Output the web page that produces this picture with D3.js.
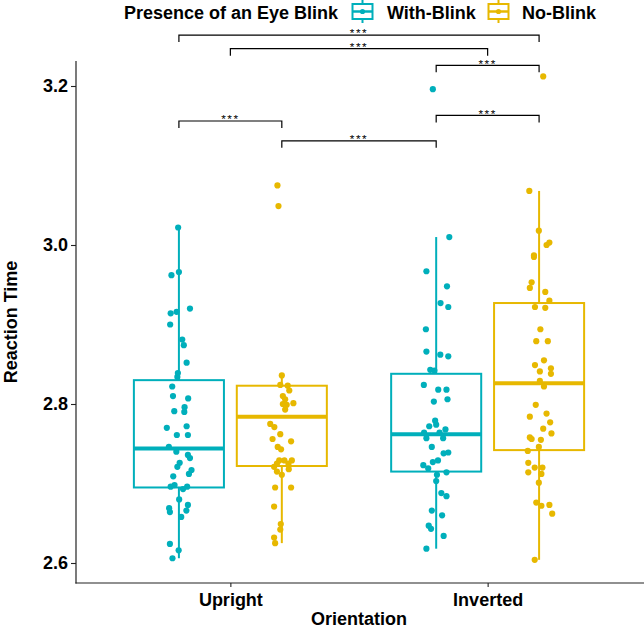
<!DOCTYPE html>
<html>
<head>
<meta charset="utf-8">
<script src="https://cdn.jsdelivr.net/npm/d3@7"></script>
<style>
  html, body { margin: 0; padding: 0; background: #fff; }
  svg { display: block; font-family: "Liberation Sans", Arial, sans-serif; }
</style>
</head>
<body>
<svg id="chart" width="644" height="629"></svg>
<script>
// ---------------- DATA ----------------
const orientations = ["Upright", "Inverted"];
const blinkGroups = ["With-Blink", "No-Blink"];
const groupColors = ["#00AFBB", "#E7B800"];
const yTickValues = [2.6, 2.8, 3.0, 3.2];
const xTitle = "Orientation";
const yTitle = "Reaction Time";
const legendTitle = "Presence of an Eye Blink";

// Box statistics [low whisker, q1, median, q3, high whisker]
const boxUprightWith  = [2.606, 2.695, 2.744, 2.830, 3.022];
const boxUprightNo    = [2.625, 2.722, 2.784, 2.823, 2.836];
const boxInvertedWith = [2.618, 2.715, 2.762, 2.838, 3.010];
const boxInvertedNo   = [2.604, 2.742, 2.826, 2.927, 3.068];

// Reaction times (jittered points) and horizontal jitter (fraction of category step)
const rtUprightWith = [3.022,2.962,2.966,2.920,2.914,2.916,2.900,2.881,2.874,2.852,2.839,2.834,2.822,2.810,2.807,2.791,2.796,2.790,2.770,2.772,2.761,2.761,2.746,2.740,2.736,2.732,2.726,2.721,2.717,2.712,2.709,2.696,2.698,2.693,2.696,2.680,2.669,2.664,2.673,2.666,2.658,2.624,2.616,2.606];
const jxUprightWith = [-0.003,-0.029,0,0.043,-0.032,-0.009,-0.034,0.013,0.019,0.030,-0.004,-0.006,-0.026,-0.023,0.036,-0.018,0.022,0.021,-0.047,0.030,-0.008,0.035,-0.039,-0.010,0.035,0.043,0.003,-0.006,0.049,0.039,-0.022,-0.032,-0.017,0.016,0.032,0.001,-0.038,-0.035,0.035,0.029,0.009,-0.035,-0.001,-0.025];

const rtUprightNo = [3.075,3.049,2.836,2.824,2.823,2.817,2.810,2.806,2.801,2.799,2.800,2.793,2.775,2.771,2.762,2.756,2.753,2.746,2.743,2.729,2.729,2.729,2.725,2.725,2.721,2.718,2.715,2.711,2.695,2.695,2.671,2.649,2.642,2.632,2.625];
const jxUprightNo = [-0.017,-0.013,0,-0.006,0.023,0.029,0.004,0.013,0.045,0.019,0.004,0.013,-0.045,-0.029,-0.006,-0.036,0.036,-0.016,-0.003,-0.010,0.010,0.039,-0.019,0.026,-0.030,0.027,-0.019,0,-0.026,0.036,-0.030,-0.004,-0.006,-0.030,-0.026];

const rtInvertedWith = [3.196,3.010,2.967,2.948,2.927,2.922,2.894,2.866,2.862,2.860,2.843,2.842,2.824,2.818,2.818,2.803,2.806,2.779,2.772,2.774,2.768,2.764,2.764,2.757,2.757,2.746,2.739,2.738,2.729,2.727,2.723,2.719,2.714,2.711,2.703,2.688,2.684,2.666,2.660,2.647,2.643,2.634,2.618];
const jxInvertedWith = [-0.013,0.051,-0.038,0.042,0.017,0.047,-0.040,-0.038,0.016,0.047,-0.023,-0.007,-0.048,0.008,0.040,-0.009,0.044,-0.004,-0.027,0,0.036,-0.047,0.013,-0.038,0.027,-0.017,0.047,0.029,0.007,-0.013,-0.050,-0.031,0.040,0.003,0,0.020,0.040,-0.017,0.023,-0.029,-0.020,0.029,-0.038];

const rtInvertedNo = [3.212,3.068,3.018,3.000,3.003,2.987,2.985,2.953,2.946,2.941,2.930,2.922,2.921,2.894,2.879,2.879,2.849,2.855,2.845,2.841,2.838,2.829,2.822,2.799,2.788,2.784,2.777,2.769,2.763,2.758,2.756,2.755,2.741,2.746,2.726,2.720,2.720,2.714,2.712,2.701,2.676,2.672,2.673,2.662,2.604];
const jxInvertedNo = [0.016,-0.038,-0.001,0.029,0.040,-0.020,-0.020,-0.029,-0.036,0.024,0.040,-0.016,0.024,0.005,-0.011,0.034,-0.016,0.019,0.046,0.003,0.046,0.003,0.019,-0.013,0.029,-0.036,0.043,0.016,0.048,-0.036,-0.029,0.007,-0.044,-0.001,-0.042,-0.017,0.013,-0.042,0.009,-0.001,-0.011,0.009,0.040,0.051,-0.017];

// Significance brackets: [orientation, group or null (= category centre)]
const bracketStart = [["Upright","With-Blink"],["Upright",null],["Inverted","With-Blink"],["Inverted","With-Blink"],["Upright","With-Blink"],["Upright","No-Blink"]];
const bracketEnd   = [["Inverted","No-Blink"],["Inverted",null],["Inverted","No-Blink"],["Inverted","No-Blink"],["Upright","No-Blink"],["Inverted","With-Blink"]];
const bracketLevel = [3.264, 3.247, 3.226, 3.163, 3.156, 3.131];
const bracketLabel = ["***","***","***","***","***","***"];

// ---------------- LAYOUT ----------------
const svg = d3.select("#chart");
const panel = { left: 76, right: 642, top: 61, bottom: 583 };

const x = d3.scalePoint().domain(orientations).range([panel.left, panel.right]).padding(0.6);
const step = x.step();
const dodge = d3.scaleOrdinal().domain(blinkGroups).range([-0.2, 0.2]);
const color = d3.scaleOrdinal().domain(blinkGroups).range(groupColors);
const y = d3.scaleLinear().domain([2.6, 3.2]).range([563, 86]);
const boxW = 0.35 * step;

function xPos(o, g) { return x(o) + (g ? dodge(g) * step : 0); }

const groups = [
  { o: "Upright",  g: "With-Blink", box: boxUprightWith,  rt: rtUprightWith,  jx: jxUprightWith },
  { o: "Upright",  g: "No-Blink",   box: boxUprightNo,    rt: rtUprightNo,    jx: jxUprightNo },
  { o: "Inverted", g: "With-Blink", box: boxInvertedWith, rt: rtInvertedWith, jx: jxInvertedWith },
  { o: "Inverted", g: "No-Blink",   box: boxInvertedNo,   rt: rtInvertedNo,   jx: jxInvertedNo }
];

// ---------------- BOXES ----------------
const boxG = svg.append("g");
groups.forEach(d => {
  const cx = xPos(d.o, d.g), c = color(d.g);
  const [lo, q1, med, q3, hi] = d.box;
  const g = boxG.append("g");
  g.append("line").attr("x1", cx).attr("x2", cx).attr("y1", y(q3)).attr("y2", y(hi))
    .attr("stroke", c).attr("stroke-width", 2);
  g.append("line").attr("x1", cx).attr("x2", cx).attr("y1", y(q1)).attr("y2", y(lo))
    .attr("stroke", c).attr("stroke-width", 2);
  g.append("rect").attr("x", cx - boxW / 2).attr("y", y(q3)).attr("width", boxW)
    .attr("height", y(q1) - y(q3)).attr("fill", "none").attr("stroke", c).attr("stroke-width", 2);
  g.append("line").attr("x1", cx - boxW / 2).attr("x2", cx + boxW / 2)
    .attr("y1", y(med)).attr("y2", y(med)).attr("stroke", c).attr("stroke-width", 4);
});

// ---------------- POINTS ----------------
const ptG = svg.append("g");
groups.forEach(d => {
  ptG.selectAll(null).data(d.rt.map((v, i) => ({ v, j: d.jx[i] }))).join("circle")
    .attr("cx", p => xPos(d.o, d.g) + p.j * step)
    .attr("cy", p => y(p.v))
    .attr("r", 3.1)
    .attr("fill", color(d.g));
});

// ---------------- AXES ----------------
const axisColor = "#222";
svg.append("line").attr("x1", panel.left).attr("x2", panel.left)
  .attr("y1", panel.top).attr("y2", panel.bottom + 0.6).attr("stroke", axisColor).attr("stroke-width", 1.2);
svg.append("line").attr("x1", panel.left - 0.6).attr("x2", 644)
  .attr("y1", panel.bottom).attr("y2", panel.bottom).attr("stroke", axisColor).attr("stroke-width", 1.2);

const yAxis = svg.append("g").attr("transform", `translate(${panel.left},0)`)
  .call(d3.axisLeft(y).tickValues(yTickValues).tickFormat(d3.format(".1f")).tickSize(5).tickPadding(3));
yAxis.select(".domain").remove();
yAxis.selectAll(".tick line").attr("stroke", axisColor).attr("stroke-width", 1.1);
yAxis.selectAll(".tick text").attr("font-size", 18).attr("font-weight", "bold").attr("fill", "#000")
  .attr("font-family", "Liberation Sans, Arial, sans-serif");

const xAxis = svg.append("g").attr("transform", `translate(0,${panel.bottom})`)
  .call(d3.axisBottom(x).tickSize(4).tickPadding(6));
xAxis.select(".domain").remove();
xAxis.selectAll(".tick line").attr("stroke", axisColor).attr("stroke-width", 1.1);
xAxis.selectAll(".tick text").attr("font-size", 18).attr("font-weight", "bold").attr("fill", "#000")
  .attr("font-family", "Liberation Sans, Arial, sans-serif");

svg.append("text").attr("x", (panel.left + panel.right) / 2).attr("y", 625)
  .attr("text-anchor", "middle").attr("font-size", 18).attr("font-weight", "bold").text(xTitle);
svg.append("text").attr("transform", `translate(17,${(panel.top + panel.bottom) / 2}) rotate(-90)`)
  .attr("text-anchor", "middle").attr("font-size", 18).attr("font-weight", "bold").text(yTitle);

// ---------------- BRACKETS ----------------
const brG = svg.append("g");
bracketLevel.forEach((lv, i) => {
  const x1 = xPos(bracketStart[i][0], bracketStart[i][1]);
  const x2 = xPos(bracketEnd[i][0], bracketEnd[i][1]);
  const yy = y(lv);
  brG.append("path")
    .attr("d", `M${x1},${yy + 7}V${yy}H${x2}V${yy + 7}`)
    .attr("fill", "none").attr("stroke", "#000").attr("stroke-width", 1.2);
  brG.append("text").attr("x", (x1 + x2) / 2).attr("y", yy + 2.3)
    .attr("text-anchor", "middle").attr("font-size", 11.8).attr("letter-spacing", 1.5)
    .attr("fill", "#000").text(bracketLabel[i]);
});

// ---------------- LEGEND ----------------
const leg = svg.append("g");
leg.append("text").attr("x", 124).attr("y", 19).attr("font-size", 18).attr("font-weight", "bold")
  .text(legendTitle);
const keyX = [362.5, 498.5];
const labelX = [387, 522];
blinkGroups.forEach((g, i) => {
  const cx = keyX[i], cy = 11.5, c = color(g);
  const k = leg.append("g");
  k.append("line").attr("x1", cx).attr("x2", cx).attr("y1", cy - 11.5).attr("y2", cy + 11.5)
    .attr("stroke", c).attr("stroke-width", 2);
  k.append("rect").attr("x", cx - 10).attr("y", cy - 7.5).attr("width", 20).attr("height", 15)
    .attr("fill", "#fff").attr("stroke", c).attr("stroke-width", 2);
  k.append("line").attr("x1", cx - 10).attr("x2", cx + 10).attr("y1", cy).attr("y2", cy)
    .attr("stroke", c).attr("stroke-width", 2.5);
  k.append("circle").attr("cx", cx).attr("cy", cy).attr("r", 2.6).attr("fill", c);
  leg.append("text").attr("x", labelX[i]).attr("y", 19).attr("font-size", 18).attr("font-weight", "bold").text(g);
});
</script>
</body>
</html>
